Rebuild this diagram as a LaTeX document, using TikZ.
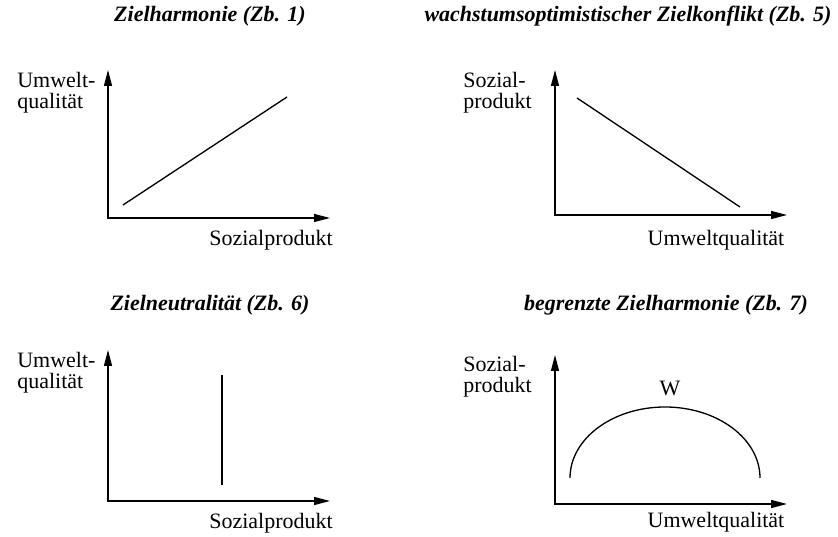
\documentclass[tikz,border=0pt]{standalone}
\usepackage{fontspec}
\setmainfont{Liberation Serif}
\usetikzlibrary{arrows.meta}
\tikzset{
  axis/.style={line width=0.75pt,{Triangle[length=9pt,width=4.5pt]}-{Triangle[length=9pt,width=4.5pt]}},
  curve/.style={line width=0.75pt},
  lbl/.style={inner sep=0pt,font=\fontsize{12.5}{12}\selectfont},
  ylbl/.style={lbl,align=left,anchor=west},
  ttl/.style={inner sep=0pt,font=\fontsize{12.5}{14}\selectfont\bfseries\itshape},
}

\begin{document}
\begin{tikzpicture}[x=0.02cm,y=0.02cm]
  \useasboundingbox (0,0) rectangle (838,537);
  % Zb. 1
  \node[ttl] (t1) at (210,521) {Zielharmonie (Zb. 1)};
  \coordinate (y1) at (108,467); \coordinate (x1) at (330,319);
  \draw[axis] (y1) |- (x1);
  \node[ylbl] (ly1) at (17,444) {Umwelt-\\qualität};
  \node[lbl] (lx1) at (271,297) {Sozialprodukt};
  \coordinate (a1) at (123,332); \coordinate (b1) at (287,440);
  \draw[curve] (a1) -- (b1);
  % Zb. 5
  \node[ttl] (t2) at (628,521) {wachstumsoptimistischer Zielkonflikt (Zb. 5)};
  \coordinate (y2) at (555,467); \coordinate (x2) at (787,322);
  \draw[axis] (y2) |- (x2);
  \node[ylbl] (ly2) at (463,444) {Sozial-\\produkt};
  \node[lbl] (lx2) at (716,297) {Umweltqualität};
  \coordinate (a2) at (577,439); \coordinate (b2) at (740,330);
  \draw[curve] (a2) -- (b2);
  % Zb. 6
  \node[ttl] (t3) at (210,232) {Zielneutralität (Zb. 6)};
  \coordinate (y3) at (108,187); \coordinate (x3) at (330,36);
  \draw[axis] (y3) |- (x3);
  \node[ylbl] (ly3) at (17,164) {Umwelt-\\qualität};
  \node[lbl] (lx3) at (271,14) {Sozialprodukt};
  \coordinate (a3) at (222,52); \coordinate (b3) at (222,162);
  \draw[curve] (a3) -- (b3);
  % Zb. 7
  \node[ttl] (t4) at (666,232) {begrenzte Zielharmonie (Zb. 7)};
  \coordinate (y4) at (555,182); \coordinate (x4) at (787,33);
  \draw[axis] (y4) |- (x4);
  \node[ylbl] (ly4) at (463,160) {Sozial-\\produkt};
  \node[lbl] (lx4) at (716,15) {Umweltqualität};
  \coordinate (a4) at (570,59);
  \draw[curve] (a4) arc[start angle=180,end angle=0,x radius=95,y radius=71];
  \node[lbl] (w) at (670,149) {W};
\end{tikzpicture}
\end{document}
